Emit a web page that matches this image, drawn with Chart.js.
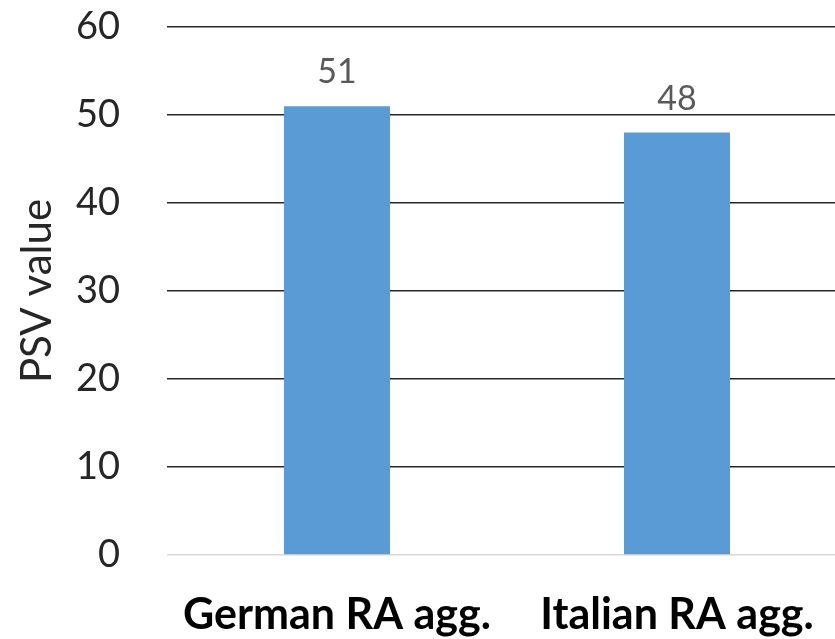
<!DOCTYPE html>
<html>
<head>
<meta charset="utf-8">
<script src="https://cdn.jsdelivr.net/npm/chart.js@4.4.0/dist/chart.umd.min.js"></script>
<style>
  html, body { margin: 0; padding: 0; background: #fff; overflow: hidden; }
  #wrap { width: 850px; height: 639px; }
</style>
</head>
<body>
<div id="wrap"><canvas id="psvChart" width="850" height="639"></canvas></div>
<script>
// categories and PSV values
const categories = ["German RA agg.", "Italian RA agg."];
const psvValues = [51, 48];
const yTicks = [0, 10, 20, 30, 40, 50, 60];

const FONT = "Lato, 'Open Sans', sans-serif";

// writes each bar's value just above it
const valueLabels = {
    id: "valueLabels",
    afterDatasetsDraw(chart) {
        const ctx = chart.ctx;
        const meta = chart.getDatasetMeta(0);
        ctx.save();
        ctx.font = "34px " + FONT;
        ctx.fillStyle = "#595959";
        ctx.textAlign = "center";
        ctx.textBaseline = "bottom";
        meta.data.forEach((bar, i) => {
            ctx.fillText(String(chart.data.datasets[0].data[i]), bar.x, bar.y - 17);
        });
        ctx.restore();
    }
};

const ctx = document.getElementById("psvChart").getContext("2d");
new Chart(ctx, {
    type: "bar",
    data: {
        labels: categories,
        datasets: [{
            data: psvValues,
            backgroundColor: "#5b9bd5",
            borderWidth: 0,
            categoryPercentage: 1,
            barPercentage: 0.312
        }]
    },
    options: {
        responsive: false,
        animation: false,
        layout: { padding: { top: 0, right: 3, left: 0, bottom: 0 } },
        plugins: {
            legend: { display: false },
            tooltip: { enabled: false }
        },
        scales: {
            x: {
                grid: { display: false, drawTicks: false },
                border: { display: false },
                ticks: {
                    color: "#000",
                    font: { family: FONT, size: 43, weight: "bold" },
                    padding: 34,
                    maxRotation: 0,
                    autoSkip: false
                },
                afterFit(scale) { scale.height = 84; }
            },
            y: {
                min: 0,
                max: 60,
                afterBuildTicks(scale) {
                    scale.ticks = yTicks.map(v => ({ value: v }));
                },
                grid: {
                    drawTicks: false,
                    lineWidth: 1.5,
                    color: c => (c.tick && c.tick.value === 0) ? "#d9d9d9" : "#262626"
                },
                border: { display: false },
                ticks: {
                    color: "#262626",
                    font: { family: FONT, size: 38 },
                    padding: 47
                },
                title: {
                    display: true,
                    text: "PSV value",
                    color: "#262626",
                    font: { family: FONT, size: 42 },
                    padding: { top: 12, bottom: 0 }
                },
                afterFit(scale) {
                    scale.width = 167;
                    scale.paddingTop = 27;
                    scale.paddingBottom = 0;
                }
            }
        }
    },
    plugins: [valueLabels]
});
</script>
</body>
</html>
